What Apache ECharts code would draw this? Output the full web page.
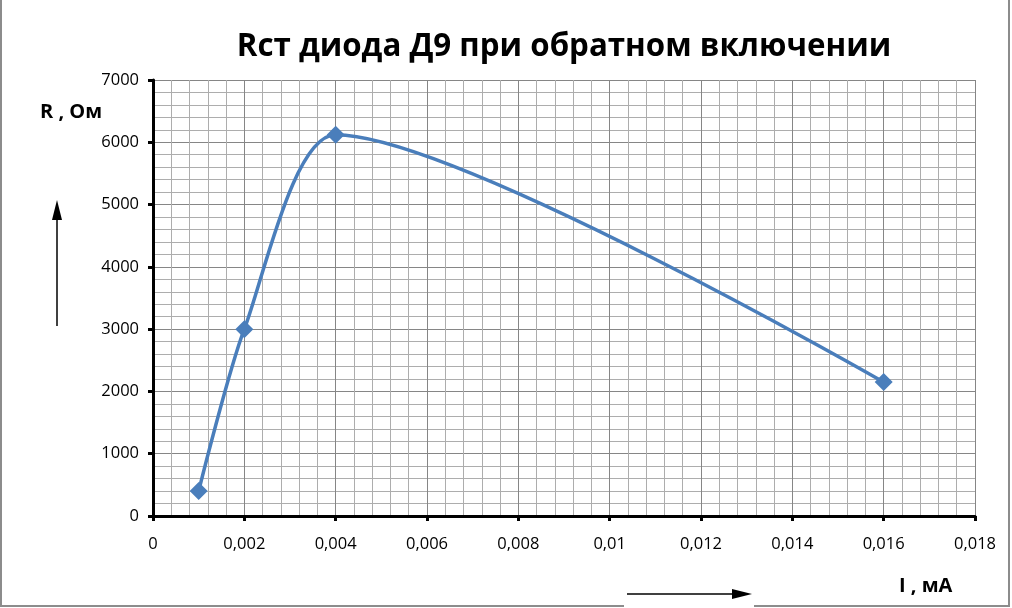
<!DOCTYPE html>
<html><head><meta charset="utf-8">
<script src="https://cdn.jsdelivr.net/npm/echarts@6/dist/echarts.min.js"></script>
<style>html,body{margin:0;padding:0;background:#fff}#c{width:1012px;height:608px}</style>
</head><body><div id="c"></div>
<script>
const currentI = [0.001, 0.002, 0.004, 0.016];
const resistance = [400, 3000, 6120, 2150];
const titleText = 'Rст диода Д9 при обратном включении';
const yName = 'R , Ом';
const xName = 'I , мА';

const chart = echarts.init(document.getElementById('c'));
const fmtX = v => v === 0 ? '0' : String(+v.toFixed(4)).replace('.', ',');
chart.setOption({
  animation: false,
  title: {text: titleText, left: 559, top: 27, textAlign: 'center',
    textStyle: {fontFamily: 'Open Sans', fontWeight: 'bold', fontSize: 31.3, color: '#000'}},
  grid: {left: 153, right: 37, top: 80, bottom: 92},
  xAxis: {type: 'value', min: 0, max: 0.018, interval: 0.002,
    axisLine: {lineStyle: {color: '#000', width: 3}},
    axisTick: {show: true, length: 5, lineStyle: {color: '#000', width: 3}},
    axisLabel: {formatter: fmtX, fontFamily: 'Open Sans', fontSize: 16.5, color: '#000', margin: 20},
    splitLine: {show: true, lineStyle: {color: '#868686', width: 1}},
    minorTick: {show: false, splitNumber: 5},
    minorSplitLine: {show: true, lineStyle: {color: '#adadad', width: 1}}},
  yAxis: {type: 'value', min: 0, max: 7000, interval: 1000,
    axisLine: {show: true, lineStyle: {color: '#000', width: 3}},
    axisTick: {show: true, length: 5, lineStyle: {color: '#000', width: 3}},
    axisLabel: {formatter: v => String(v), fontFamily: 'Open Sans', fontSize: 16.5, color: '#000', margin: 14},
    splitLine: {show: true, lineStyle: {color: '#868686', width: 1}},
    minorTick: {show: false, splitNumber: 5},
    minorSplitLine: {show: true, lineStyle: {color: '#adadad', width: 1}}},
  series: [{type: 'line', data: currentI.map((x, i) => [x, resistance[i]]),
    smooth: 0.25, symbol: 'diamond', symbolSize: 18,
    lineStyle: {color: '#4a7ebb', width: 3.5}, itemStyle: {color: '#4a7ebb'}}],
  graphic: [
    {type: 'rect', shape: {x: 1, y: -3, width: 1008, height: 609}, style: {fill: 'none', stroke: '#8c8c8c', lineWidth: 2}, silent: true},
    {type: 'rect', shape: {x: 624, y: 600, width: 130, height: 10}, style: {fill: '#fff'}, silent: true},
    {type: 'text', left: 40, top: 102, style: {text: yName, fontFamily: 'Open Sans', fontWeight: 'bold', fontSize: 20, fill: '#000'}},
    {type: 'text', left: 899, top: 576, style: {text: xName, fontFamily: 'Open Sans', fontWeight: 'bold', fontSize: 20, fill: '#000'}},
    {type: 'line', shape: {x1: 57, y1: 326, x2: 57, y2: 212}, style: {stroke: '#000', lineWidth: 1.5}},
    {type: 'polygon', shape: {points: [[57, 200], [52, 220], [62, 220]]}, style: {fill: '#000'}},
    {type: 'line', shape: {x1: 627, y1: 594, x2: 740, y2: 594}, style: {stroke: '#000', lineWidth: 1.5}},
    {type: 'polygon', shape: {points: [[752, 594], [732, 589], [732, 599]]}, style: {fill: '#000'}}
  ]
});
</script></body></html>
